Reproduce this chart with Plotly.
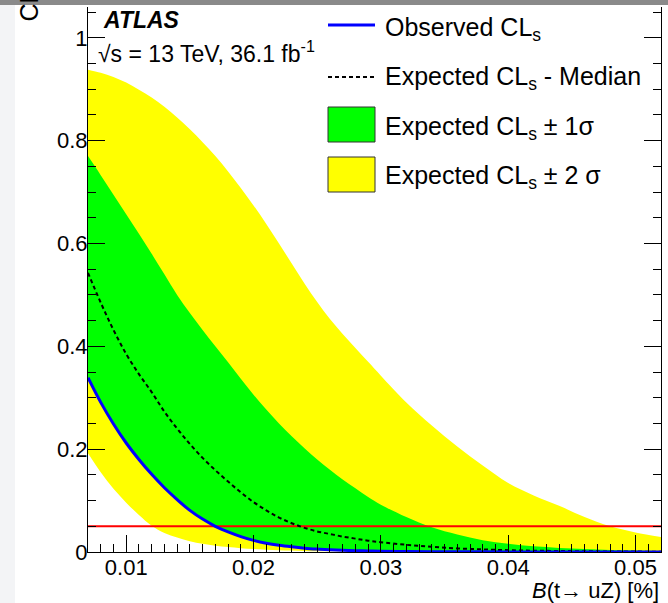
import plotly.graph_objects as go

# ---------------- data ----------------
X = [0.007, 0.008, 0.009, 0.010, 0.011, 0.012, 0.013, 0.014, 0.015, 0.016,
     0.017, 0.018, 0.019, 0.020, 0.021, 0.022, 0.023, 0.024, 0.025, 0.026,
     0.027, 0.028, 0.029, 0.030, 0.032, 0.034, 0.036, 0.038, 0.040, 0.042,
     0.044, 0.046, 0.048, 0.050, 0.052]

EXP_P2 = [0.938, 0.932, 0.924, 0.913, 0.899, 0.884, 0.866, 0.845, 0.822, 0.797,
          0.770, 0.740, 0.708, 0.674, 0.638, 0.600, 0.561, 0.522, 0.486, 0.453,
          0.424, 0.397, 0.370, 0.343, 0.291, 0.246, 0.205, 0.168, 0.134, 0.110,
          0.090, 0.068, 0.050, 0.038, 0.029]

EXP_P1 = [0.770, 0.733, 0.695, 0.657, 0.619, 0.580, 0.540, 0.500, 0.465, 0.432,
          0.400, 0.369, 0.337, 0.306, 0.277, 0.250, 0.225, 0.202, 0.180, 0.160,
          0.141, 0.124, 0.107, 0.092, 0.068, 0.048, 0.034, 0.023, 0.016, 0.011,
          0.008, 0.006, 0.004, 0.003, 0.002]

EXP_MED = [0.543, 0.485, 0.432, 0.385, 0.346, 0.311, 0.273, 0.240, 0.210, 0.183,
           0.159, 0.137, 0.116, 0.097, 0.081, 0.067, 0.056, 0.047, 0.040, 0.035,
           0.030, 0.026, 0.022, 0.019, 0.014, 0.010, 0.007, 0.005, 0.0035, 0.0025,
           0.002, 0.0015, 0.001, 0.0008, 0.0006]

EXP_M1 = [0.339, 0.291, 0.249, 0.212, 0.180, 0.151, 0.125, 0.102, 0.081, 0.064,
          0.050, 0.039, 0.030, 0.0226, 0.017, 0.013, 0.010, 0.0075, 0.0057, 0.0043,
          0.0033, 0.0025, 0.0019, 0.0014, 0.0009, 0.0006, 0.0004, 0.0003, 0.0002, 0.0002,
          0.0001, 0.0001, 0.0001, 0.0001, 0.0001]

EXP_M2 = [0.192, 0.155, 0.123, 0.096, 0.072, 0.051, 0.037, 0.028, 0.021, 0.016,
          0.012, 0.0095, 0.0073, 0.0057, 0.0044, 0.0034, 0.0027, 0.0021, 0.0016, 0.0013,
          0.0010, 0.0008, 0.0006, 0.0005, 0.0003, 0.0002, 0.0002, 0.0001, 0.0001, 0.0001,
          0.0001, 0.0001, 0.0001, 0.0001, 0.0001]

OBS = [0.339, 0.291, 0.249, 0.212, 0.180, 0.151, 0.125, 0.102, 0.081, 0.064,
       0.050, 0.039, 0.030, 0.0226, 0.017, 0.013, 0.010, 0.0075, 0.0057, 0.0043,
       0.0033, 0.0025, 0.0019, 0.0014, 0.0009, 0.0006, 0.0004, 0.0003, 0.0002, 0.0002,
       0.0001, 0.0001, 0.0001, 0.0001, 0.0001]

CL_LIMIT = 0.05

X_RANGE = [0.007, 0.052]
Y_RANGE = [0.0, 1.06]
X_TICKS = [0.01, 0.02, 0.03, 0.04, 0.05]
X_TICK_LABELS = ["0.01", "0.02", "0.03", "0.04", "0.05"]
Y_TICKS = [0.0, 0.2, 0.4, 0.6, 0.8, 1.0]
Y_TICK_LABELS = ["0", "0.2", "0.4", "0.6", "0.8", "1"]

LEGEND_LABELS = ["Observed CL<sub>s</sub>",
                 "Expected CL<sub>s</sub> - Median",
                 "Expected CL<sub>s</sub> ± 1σ",
                 "Expected CL<sub>s</sub> ± 2 σ"]

# ---------------- styling ----------------
FONT = "Liberation Sans, Arial, Helvetica, sans-serif"
YELLOW = "#ffff00"
GREEN = "#00ff00"
BLUE = "#0000ff"
RED = "#ff0000"

W, H = 668, 603
ML, MR, MT, MB = 88, 7, 7, 51
PW, PH = W - ML - MR, H - MT - MB


def px(xp):
    return (xp - ML) / PW


def py(yp):
    return (H - MB - yp) / PH


fig = go.Figure()

# +-2 sigma band
fig.add_trace(go.Scatter(x=X, y=EXP_M2, mode="lines",
                         line=dict(width=0, shape="spline", color=YELLOW),
                         showlegend=False, hoverinfo="skip"))
fig.add_trace(go.Scatter(x=X, y=EXP_P2, mode="lines",
                         line=dict(width=0, shape="spline", color=YELLOW),
                         fill="tonexty", fillcolor=YELLOW,
                         showlegend=False, hoverinfo="skip"))
# +-1 sigma band
fig.add_trace(go.Scatter(x=X, y=EXP_M1, mode="lines",
                         line=dict(width=0, shape="spline", color=GREEN),
                         showlegend=False, hoverinfo="skip"))
fig.add_trace(go.Scatter(x=X, y=EXP_P1, mode="lines",
                         line=dict(width=0, shape="spline", color=GREEN),
                         fill="tonexty", fillcolor=GREEN,
                         showlegend=False, hoverinfo="skip"))
# 95% CL line
fig.add_trace(go.Scatter(x=X_RANGE, y=[CL_LIMIT, CL_LIMIT], mode="lines",
                         line=dict(width=2, color=RED), showlegend=False))
# expected median
fig.add_trace(go.Scatter(x=X, y=EXP_MED, mode="lines",
                         line=dict(width=2, color="black", dash="4px,3px", shape="spline"),
                         showlegend=False))
# observed
fig.add_trace(go.Scatter(x=X, y=OBS, mode="lines",
                         line=dict(width=3, color=BLUE, shape="spline"),
                         showlegend=False))

axis_common = dict(showgrid=False, zeroline=False, showline=True, linecolor="black",
                   linewidth=1, ticks="inside", tickcolor="black", tickwidth=1,
                   ticklen=17, tickfont=dict(family=FONT, size=22, color="black"))

fig.update_xaxes(range=X_RANGE, tickvals=X_TICKS, ticktext=X_TICK_LABELS,
                 mirror=False, ticklabelstandoff=-4,
                 minor=dict(dtick=0.001, tick0=0.0, ticks="inside", ticklen=8,
                            tickcolor="black", tickwidth=1),
                 **axis_common)
fig.update_yaxes(range=Y_RANGE, tickvals=Y_TICKS, ticktext=Y_TICK_LABELS,
                 mirror="ticks", ticklabelstandoff=-5,
                 minor=dict(dtick=0.05, tick0=0.0, ticks="inside", ticklen=8,
                            tickcolor="black", tickwidth=1),
                 **axis_common)

shapes = []
annotations = []

# screenshot frame details (grey bar on top, light strip on left)
shapes.append(dict(type="rect", xref="paper", yref="paper", layer="above",
                   x0=px(0), x1=px(W), y0=py(5), y1=py(0),
                   fillcolor="#8a8a8a", line=dict(width=0)))
shapes.append(dict(type="rect", xref="paper", yref="paper", layer="below",
                   x0=px(0), x1=px(15), y0=py(H), y1=py(5),
                   fillcolor="#f3f4f6", line=dict(width=0)))

# legend (hand drawn)
LX0, LX1, TX = 328, 375, 383
shapes.append(dict(type="line", xref="paper", yref="paper",
                   x0=px(LX0), x1=px(LX1), y0=py(25), y1=py(25),
                   line=dict(color=BLUE, width=3)))
shapes.append(dict(type="line", xref="paper", yref="paper",
                   x0=px(LX0), x1=px(LX1), y0=py(77), y1=py(77),
                   line=dict(color="black", width=2, dash="4px,3px")))
shapes.append(dict(type="rect", xref="paper", yref="paper",
                   x0=px(LX0), x1=px(LX1), y0=py(142), y1=py(107),
                   fillcolor=GREEN, line=dict(color="#333333", width=1)))
shapes.append(dict(type="rect", xref="paper", yref="paper",
                   x0=px(LX0), x1=px(LX1), y0=py(192), y1=py(157),
                   fillcolor=YELLOW, line=dict(color="#333333", width=1)))

for label, yc in zip(LEGEND_LABELS, [29, 78, 128, 177]):
    annotations.append(dict(text=label, xref="paper", yref="paper",
                            x=px(TX), y=py(yc), xanchor="left", yanchor="middle",
                            showarrow=False,
                            font=dict(family=FONT, size=25, color="black")))

# ATLAS labels
annotations.append(dict(text="<b><i>ATLAS</i></b>", xref="paper", yref="paper",
                        x=px(101), y=py(20), xanchor="left", yanchor="middle",
                        showarrow=False, font=dict(family=FONT, size=23, color="black")))
annotations.append(dict(text="√s = 13 TeV, 36.1 fb<sup>-1</sup>", xref="paper", yref="paper",
                        x=px(96), y=py(52), xanchor="left", yanchor="middle",
                        showarrow=False, font=dict(family=FONT, size=23, color="black")))

# axis titles
annotations.append(dict(text="<i>B</i>(t→ uZ) [%]", xref="paper", yref="paper",
                        x=1.0, y=py(590), xanchor="right", yanchor="middle",
                        showarrow=False, font=dict(family=FONT, size=22, color="black")))
annotations.append(dict(text="CL<sub>s</sub>", xref="paper", yref="paper",
                        x=px(31), y=py(24), xanchor="center", yanchor="bottom",
                        textangle=-90, showarrow=False,
                        font=dict(family=FONT, size=25, color="black")))

fig.update_layout(width=W, height=H,
                  margin=dict(l=ML, r=MR, t=MT, b=MB, pad=0),
                  paper_bgcolor="white", plot_bgcolor="white",
                  showlegend=False, shapes=shapes, annotations=annotations,
                  font=dict(family=FONT))

fig.write_html("out.html",
               config={"displayModeBar": False},
               post_script="document.body.style.margin='0px';"
                           "document.body.style.overflow='hidden';")
